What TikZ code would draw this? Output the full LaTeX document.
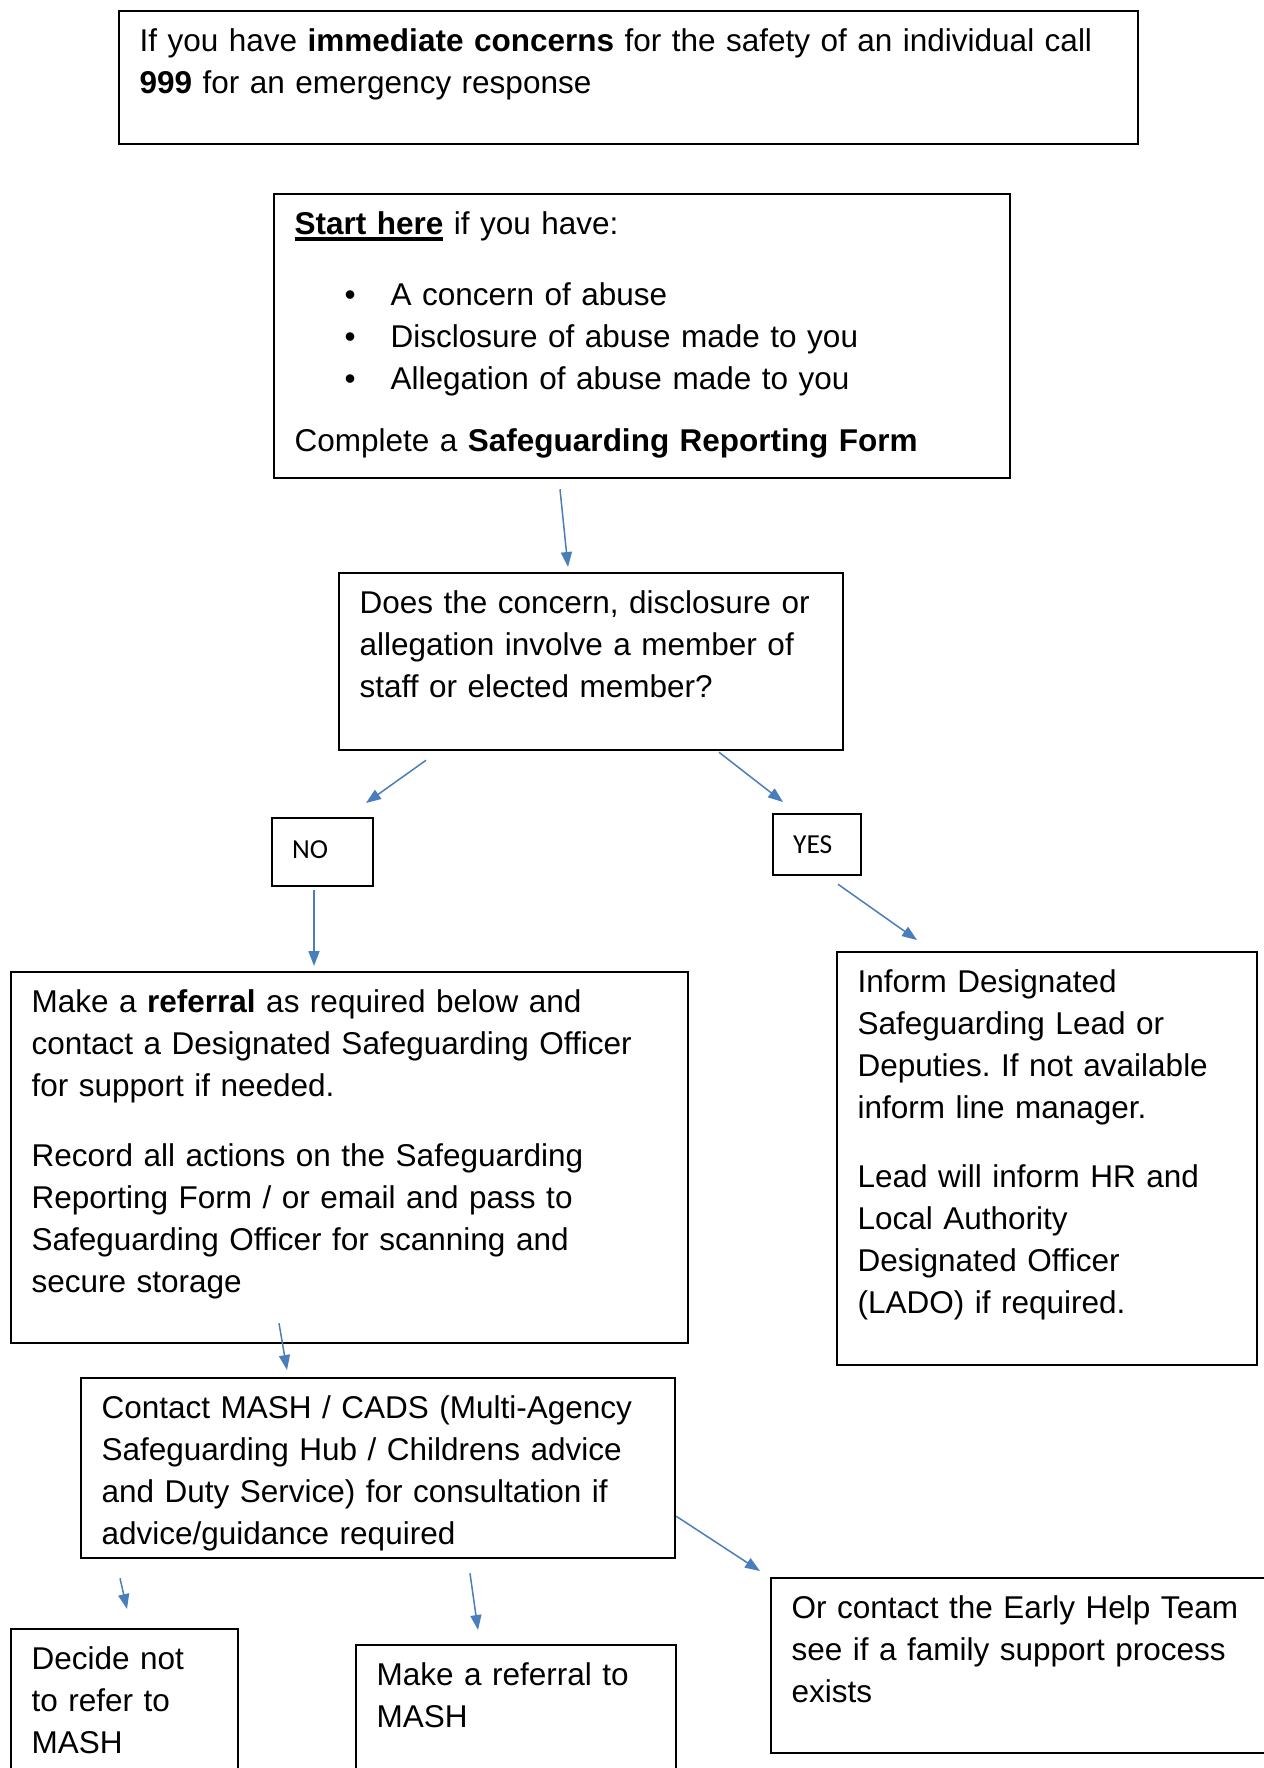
\documentclass[tikz,border=0pt]{standalone}
\usepackage{fontspec}
\setmainfont{Liberation Sans}
\newfontfamily\calibri{Carlito}
\usetikzlibrary{arrows.meta}
\definecolor{arrblue}{RGB}{74,126,187}
\newcommand{\heavyul}[1]{\setbox0\hbox{#1}\rlap{\rule[-2.6pt]{\wd0}{1.5pt}}\box0\relax}
\newcommand{\bul}{\makebox[38.4pt][l]{\hspace{20pt}\textbullet}}
\frenchspacing

\begin{document}
\begin{tikzpicture}
  [x=0.4pt,y=-0.4pt,
   every node/.style={draw,line width=0.9pt,anchor=north west,align=left,
     inner xsep=8.2pt,inner ysep=0pt,text height=16pt,
     font=\fontsize{12.6}{16.8}\selectfont},
   yesno/.style={font=\calibri\fontsize{11}{13}\selectfont,inner xsep=8pt},
   arr/.style={arrblue,line width=0.6pt,-{Triangle[length=6pt,width=4.4pt]}}]
  \useasboundingbox (0,0) rectangle (1264,1768);
  \clip (0,0) rectangle (1264,1768);
  % boxes
  \node[text width=391.2pt,text depth=37.2pt] (urgent) at (118,10)
    {If you have \textbf{immediate concerns} for the safety of an individual call\\
     \textbf{999} for an emergency response};
  \node[text width=278pt,text depth=97.6pt] (start) at (273,193)
    {\heavyul{\textbf{Start here}} if you have:\\[11.6pt]
     \bul A concern of abuse\\
     \bul Disclosure of abuse made to you\\
     \bul Allegation of abuse made to you\\[8pt]
     Complete a \textbf{Safeguarding Reporting Form}};
  \node[text width=185.2pt,text depth=54.8pt] (quest) at (338,572)
    {Does the concern, disclosure or\\
     allegation involve a member of\\
     staff or elected member?};
  \node[yesno,text width=24.4pt,text depth=11.2pt] (no) at (271,817) {NO};
  \node[yesno,text width=19.2pt,text depth=8.8pt,text height=15.6pt] (yes) at (772,813) {YES};
  \node[text width=254.4pt,text depth=132.4pt] (refer) at (10,971)
    {Make a \textbf{referral} as required below and\\
     contact a Designated Safeguarding Officer\\
     for support if needed.\\[11.2pt]
     Record all actions on the Safeguarding\\
     Reporting Form / or email and pass to\\
     Safeguarding Officer for scanning and\\
     secure storage};
  \node[text width=151.6pt,text depth=149.2pt] (inform) at (836,951)
    {Inform Designated\\
     Safeguarding Lead or\\
     Deputies. If not available\\
     inform line manager.\\[10.8pt]
     Lead will inform HR and\\
     Local Authority\\
     Designated Officer\\
     (LADO) if required.};
  \node[text width=221.2pt,text depth=56pt] (mash) at (80,1377)
    {Contact MASH / CADS (Multi-Agency\\
     Safeguarding Hub / Childrens advice\\
     and Duty Service) for consultation if\\
     advice/guidance required};
  \node[text width=74.4pt,text depth=64pt] (decide) at (10,1628)
    {Decide not\\ to refer to\\ MASH};
  \node[text width=111.6pt,text depth=64pt] (mashref) at (355,1644)
    {Make a referral to\\ MASH};
  \node[text width=191.6pt,text depth=54pt] (early) at (770,1577)
    {Or contact the Early Help Team\\
     see if a family support process\\
     exists};
  % arrow ends
  \coordinate (f1) at ([shift={(287,10)}]start.south west);
  \coordinate (t1) at ([shift={(230,-5)}]quest.north west);
  \coordinate (f2) at ([shift={(88,9)}]quest.south west);
  \coordinate (t2) at ([shift={(95,-14)}]no.north west);
  \coordinate (f3) at ([shift={(381,1)}]quest.south west);
  \coordinate (t3) at ([shift={(11,-11)}]yes.north west);
  \coordinate (f4) at ([shift={(43,3)}]no.south west);
  \coordinate (t4) at ([shift={(304,-5)}]refer.north west);
  \coordinate (f5) at ([shift={(66,8)}]yes.south west);
  \coordinate (t5) at ([shift={(81,-11)}]inform.north west);
  \coordinate (f6) at ([shift={(269,-21)}]refer.south west);
  \coordinate (t6) at ([shift={(207,-7)}]mash.north west);
  \coordinate (f7) at ([shift={(40,19)}]mash.south west);
  \coordinate (t7) at ([shift={(117,-19)}]decide.north west);
  \coordinate (f8) at ([shift={(390,14)}]mash.south west);
  \coordinate (t8) at ([shift={(123,-14)}]mashref.north west);
  \coordinate (f9) at ([shift={(0,-43)}]mash.south east);
  \coordinate (t9) at ([shift={(-10,-6)}]early.north west);
  \foreach \from/\to in {f1/t1,f2/t2,f3/t3,f4/t4,f5/t5,f6/t6,f7/t7,f8/t8,f9/t9}
    \draw[arr] (\from) -- (\to);
\end{tikzpicture}
\end{document}
